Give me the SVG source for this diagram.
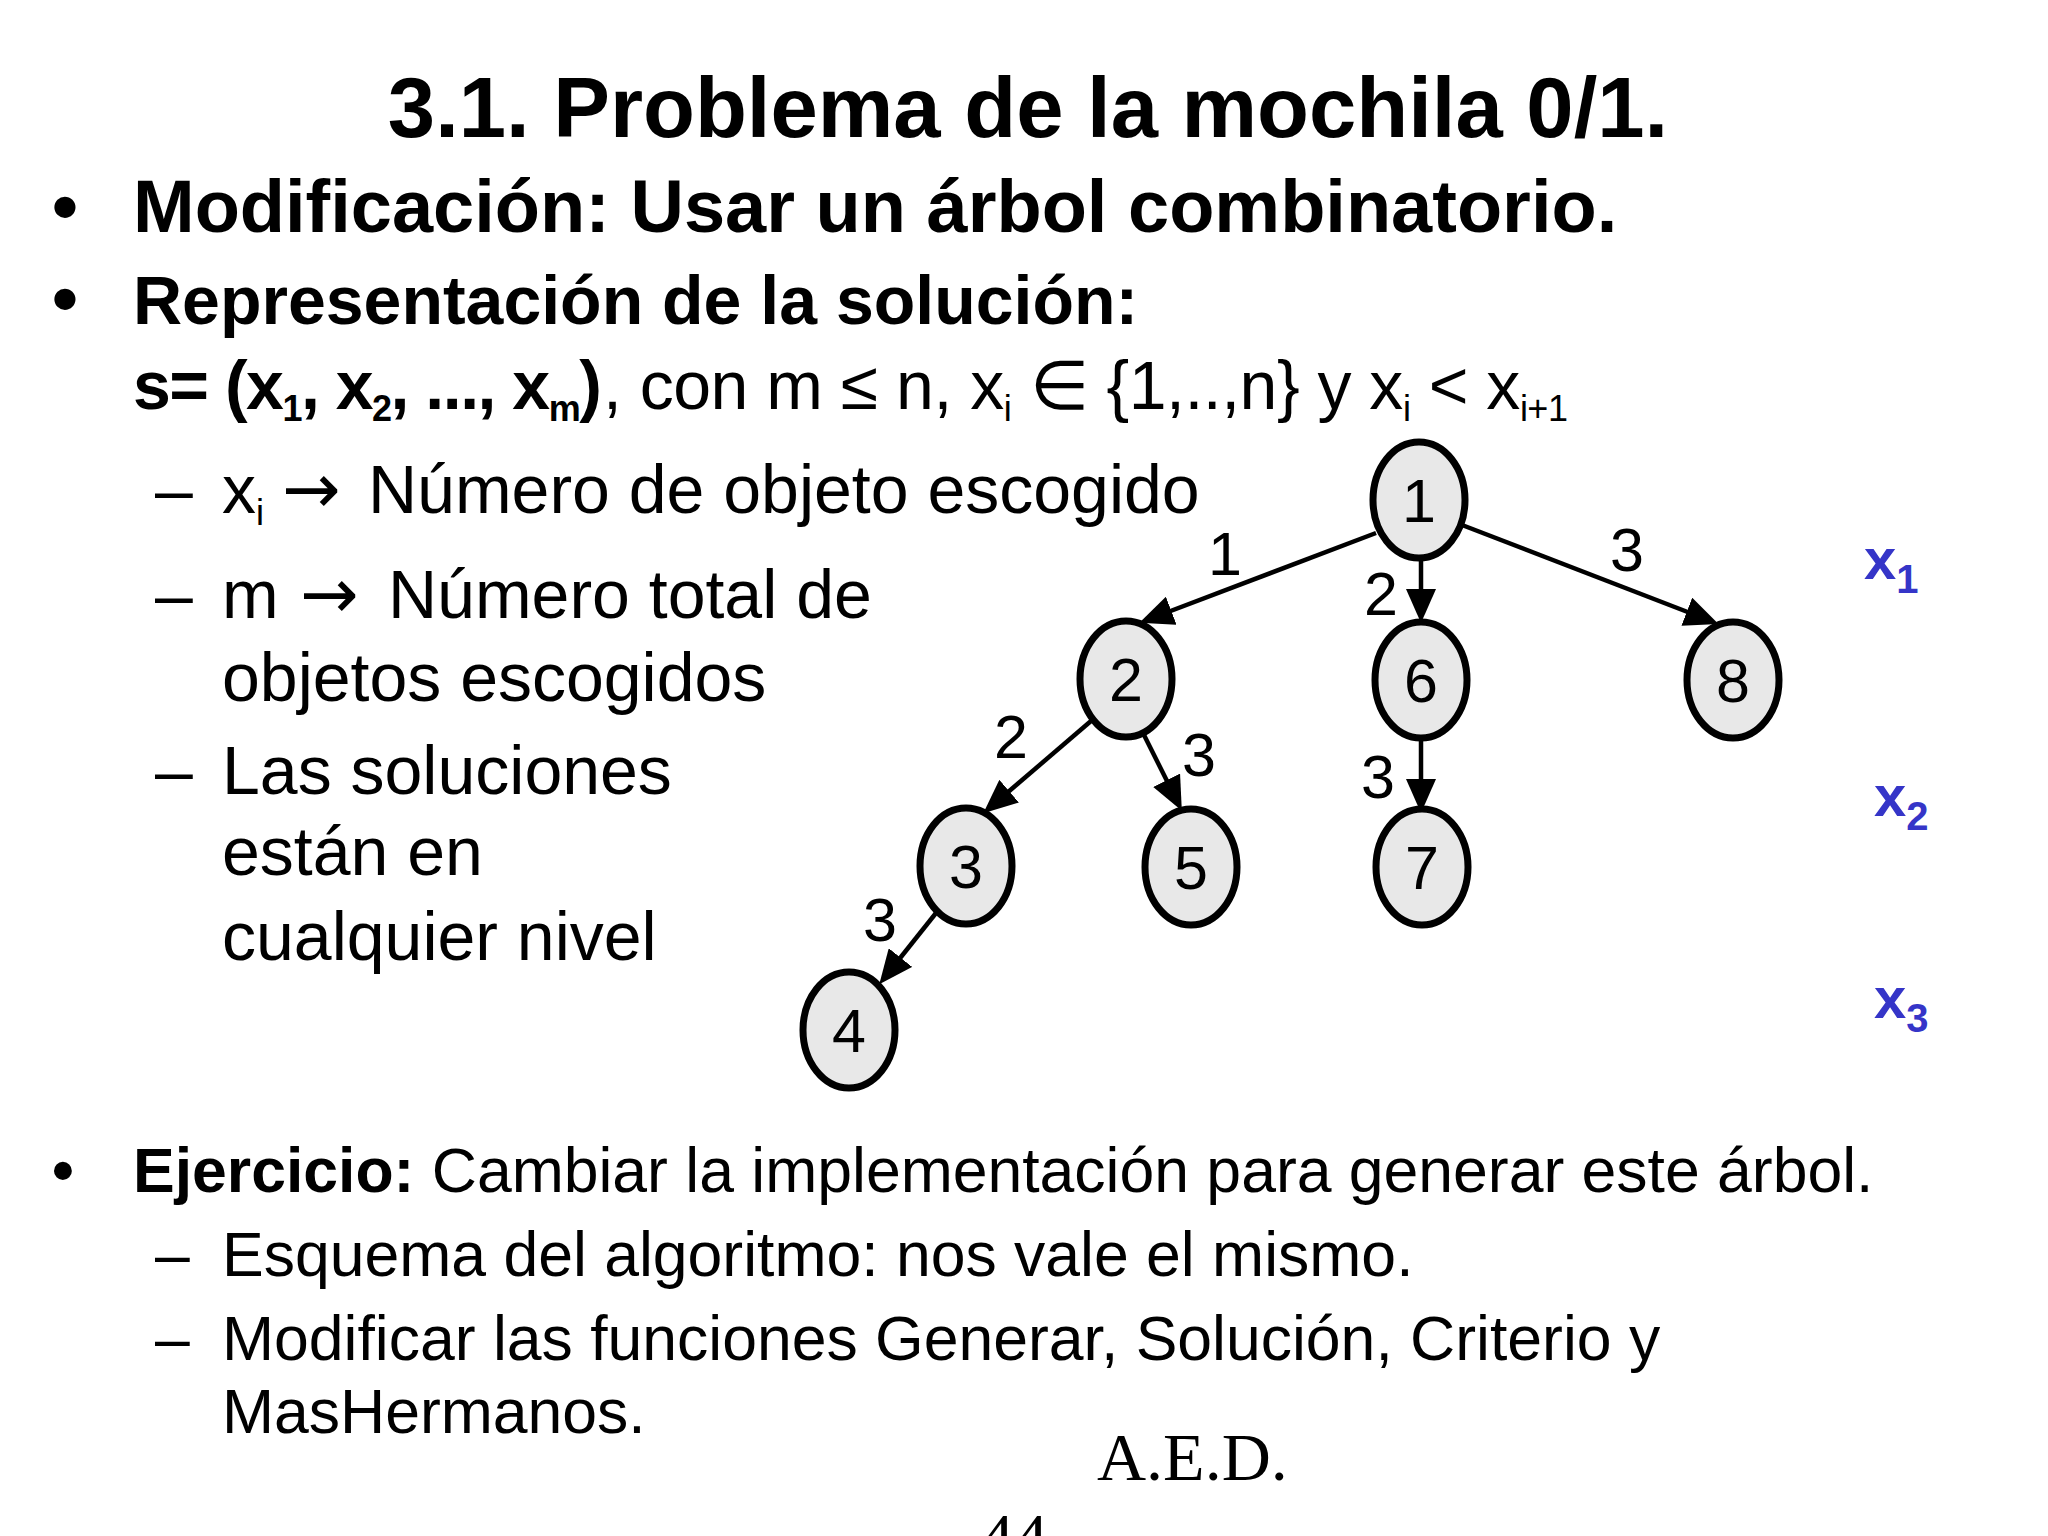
<svg xmlns="http://www.w3.org/2000/svg" width="2048" height="1536" viewBox="0 0 2048 1536">
<style>
text{font-family:"Liberation Sans",Arial,sans-serif;fill:#000}
.title{font-size:85px;font-weight:bold}
.b1{font-size:74px;font-weight:bold}
.b2{font-size:68px;font-weight:bold}
.r1{font-size:68px;font-weight:normal}
.r2{font-size:68px}
.r3{font-size:62.5px}
.sub{font-size:36px}
.arrow{font-family:"DejaVu Sans",sans-serif;font-size:70px}
.node ellipse{fill:#e8e8e8;stroke:#000;stroke-width:7}
.node text{font-size:61px;text-anchor:middle}
.edge line{stroke:#000;stroke-width:4.5;marker-end:url(#ah)}
.elabel{font-size:61px;text-anchor:middle}
.lvl{font-size:58px;font-weight:bold;fill:#3535c8}
.lvl tspan{fill:#3535c8}
.serif{font-family:"Liberation Serif","Times New Roman",serif;font-size:68px}
</style>
<defs>
<marker id="ah" markerUnits="userSpaceOnUse" markerWidth="34" markerHeight="30" refX="12" refY="15" orient="auto">
<path d="M0,0 L34,15 L0,30 z" fill="#000"/>
</marker>
</defs>
<rect width="2048" height="1536" fill="#fff"/>

<text class="title" x="1028" y="137" text-anchor="middle">3.1. Problema de la mochila 0/1.</text>

<text class="b1" x="52" y="232">•</text>
<text class="b1" x="133" y="232">Modificación: Usar un árbol combinatorio.</text>
<text class="b1" x="52" y="324">•</text>
<text class="b2" x="133" y="324">Representación de la solución:</text>
<text class="b2" x="133" y="409" letter-spacing="-1.5">s= (x<tspan class="sub" dy="12">1</tspan><tspan dy="-12">, x</tspan><tspan class="sub" dy="12">2</tspan><tspan dy="-12">, ..., x</tspan><tspan class="sub" dy="12">m</tspan><tspan dy="-12">)</tspan></text>
<text class="r1" x="603" y="409" letter-spacing="-0.5">, con m ≤ n, x<tspan class="sub" dy="12">i</tspan><tspan dy="-12"> ∈ {1,..,n} y x</tspan><tspan class="sub" dy="12">i</tspan><tspan dy="-12"> &lt; x</tspan><tspan class="sub" dy="12">i+1</tspan></text>

<text class="r2" x="155" y="513">–</text>
<text class="r2" x="222" y="513">x<tspan class="sub" dy="12">i</tspan></text>
<text class="arrow" x="282" y="513">→</text>
<text class="r2" x="368" y="513">Número de objeto escogido</text>
<text class="r2" x="155" y="618">–</text>
<text class="r2" x="222" y="618">m</text>
<text class="arrow" x="300" y="618">→</text>
<text class="r2" x="388" y="618">Número total de</text>
<text class="r2" x="222" y="701">objetos escogidos</text>
<text class="r2" x="155" y="794">–</text>
<text class="r2" x="222" y="794">Las soluciones</text>
<text class="r2" x="222" y="875">están en</text>
<text class="r2" x="222" y="960">cualquier nivel</text>

<g id="connectors" class="edge">
<line x1="1376" y1="533" x2="1160" y2="615"/>
<line x1="1421" y1="561" x2="1421" y2="601"/>
<line x1="1462" y1="525" x2="1698" y2="616"/>
<line x1="1091" y1="721" x2="1000" y2="799"/>
<line x1="1144" y1="735" x2="1172" y2="791"/>
<line x1="1421" y1="738" x2="1421" y2="791"/>
<line x1="936" y1="913" x2="893" y2="967"/>
</g>

<g id="edge-labels">
<text class="elabel" x="1225" y="575">1</text>
<text class="elabel" x="1381" y="615">2</text>
<text class="elabel" x="1627" y="571">3</text>
<text class="elabel" x="1011" y="758">2</text>
<text class="elabel" x="1199" y="776">3</text>
<text class="elabel" x="1378" y="798">3</text>
<text class="elabel" x="880" y="941">3</text>
</g>

<g id="node1" class="node"><ellipse cx="1419" cy="500" rx="46" ry="58"/><text x="1419" y="522">1</text></g>
<g id="node2" class="node"><ellipse cx="1126" cy="679" rx="46" ry="58"/><text x="1126" y="701">2</text></g>
<g id="node6" class="node"><ellipse cx="1421" cy="680" rx="46" ry="58"/><text x="1421" y="702">6</text></g>
<g id="node8" class="node"><ellipse cx="1733" cy="680" rx="46" ry="58"/><text x="1733" y="702">8</text></g>
<g id="node3" class="node"><ellipse cx="966" cy="866" rx="46" ry="58"/><text x="966" y="888">3</text></g>
<g id="node5" class="node"><ellipse cx="1191" cy="867" rx="46" ry="58"/><text x="1191" y="889">5</text></g>
<g id="node7" class="node"><ellipse cx="1422" cy="867" rx="46" ry="58"/><text x="1422" y="889">7</text></g>
<g id="node4" class="node"><ellipse cx="849" cy="1030" rx="46" ry="58"/><text x="849" y="1052">4</text></g>

<g id="levels">
<text class="lvl" x="1864" y="579">x<tspan font-size="40" dy="14">1</tspan></text>
<text class="lvl" x="1874" y="816">x<tspan font-size="40" dy="14">2</tspan></text>
<text class="lvl" x="1874" y="1018">x<tspan font-size="40" dy="14">3</tspan></text>
</g>

<text class="r3" x="52" y="1192" font-weight="bold">•</text>
<text class="r3" x="133" y="1192"><tspan font-weight="bold">Ejercicio:</tspan> Cambiar la implementación para generar este árbol.</text>
<text class="r3" x="155" y="1276">–</text>
<text class="r3" x="222" y="1276">Esquema del algoritmo: nos vale el mismo.</text>
<text class="r3" x="155" y="1360">–</text>
<text class="r3" x="222" y="1360">Modificar las funciones Generar, Solución, Criterio y</text>
<text class="r3" x="222" y="1433">MasHermanos.</text>

<text class="serif" x="1097" y="1480">A.E.D.</text>
<text class="serif" x="980" y="1560">44</text>
</svg>
